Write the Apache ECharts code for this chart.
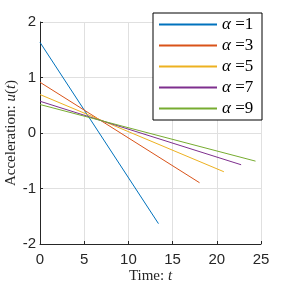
<!DOCTYPE html>
<html><head><meta charset="utf-8">
<script src="https://cdn.jsdelivr.net/npm/echarts@6/dist/echarts.min.js"></script>
<style>html,body{margin:0;padding:0;background:#fff}#c{width:288px;height:288px}</style>
</head><body><div id="c"></div>
<script>
const alphas = [1, 3, 5, 7, 9];
const colors = ['#0072BD', '#D95319', '#EDB120', '#7E2F8E', '#77AC30'];
const s1 = [[0, 1.633], [13.4, -1.633]];
const s3 = [[0, 0.914], [18.05, -0.896]];
const s5 = [[0, 0.693], [20.8, -0.698]];
const s7 = [[0, 0.572], [22.75, -0.572]];
const s9 = [[0, 0.513], [24.38, -0.507]];
const seriesData = [s1, s3, s5, s7, s9];
const xTicks = [0, 5, 10, 15, 20, 25];
const yTicks = [-2, -1, 0, 1, 2];

const serif = 'Liberation Serif';
const chart = echarts.init(document.getElementById('c'));
chart.setOption({
  animation: false,
  backgroundColor: '#fff',
  color: colors,
  grid: {left: 40, right: 27, top: 22, bottom: 44, containLabel: false, outerBoundsMode: 'none'},
  xAxis: {
    type: 'value', min: 0, max: 25, interval: 5,
    axisLine: {show: true, onZero: false, lineStyle: {color: '#262626', width: 1}},
    axisTick: {show: true, inside: true, length: 3, lineStyle: {color: '#262626'}},
    splitLine: {show: true, lineStyle: {color: '#e0e0e0', width: 1}},
    axisLabel: {color: '#262626', fontFamily: 'Liberation Sans', fontSize: 15, margin: 8},
    name: '{n|Time: }{i|t}', nameLocation: 'middle', nameGap: 25, nameMoveOverlap: false,
    nameTextStyle: {rich: {n: {fontFamily: serif, fontSize: 15, color: '#262626'}, i: {fontFamily: serif, fontStyle: 'italic', fontSize: 15, color: '#262626'}}}
  },
  yAxis: {
    type: 'value', min: -2, max: 2, interval: 1,
    axisLine: {show: true, onZero: false, lineStyle: {color: '#262626', width: 1}},
    axisTick: {show: true, inside: true, length: 3, lineStyle: {color: '#262626'}},
    splitLine: {show: true, lineStyle: {color: '#e0e0e0', width: 1}},
    axisLabel: {color: '#262626', fontFamily: 'Liberation Sans', fontSize: 15, margin: 4},
    name: '{n|Acceleration: }{i|u}{n|(}{i|t}{n|)}', nameLocation: 'middle', nameGap: 21, nameRotate: 90, nameMoveOverlap: false,
    nameTextStyle: {fontFamily: serif, fontSize: 15, rich: {n: {fontFamily: serif, fontSize: 15, color: '#262626'}, i: {fontFamily: serif, fontStyle: 'italic', fontSize: 15, color: '#262626'}}}
  },
  legend: {
    orient: 'vertical', left: 153, top: 13,
    backgroundColor: '#fff', borderColor: '#000', borderWidth: 1,
    padding: [3, 4, 3, 5], itemGap: 4, itemWidth: 58, itemHeight: 14,
    itemStyle: {opacity: 0},
    data: alphas.map(a => 'α =' + a),
    formatter: function (name) { return '{a|α}{b| ' + name.slice(2) + '}'; },
    textStyle: {fontFamily: serif, fontSize: 17, width: 36, lineHeight: 16, rich: {a: {fontFamily: serif, fontStyle: 'italic', fontSize: 17, lineHeight: 16, color: '#000'}, b: {fontFamily: serif, fontSize: 17, lineHeight: 16, color: '#000'}}}
  },
  series: alphas.map((a, i) => ({
    name: 'α =' + a, type: 'line', data: seriesData[i],
    symbol: 'none', showSymbol: false,
    lineStyle: {color: colors[i], width: 1}, itemStyle: {color: colors[i]}
  }))
});
</script></body></html>
